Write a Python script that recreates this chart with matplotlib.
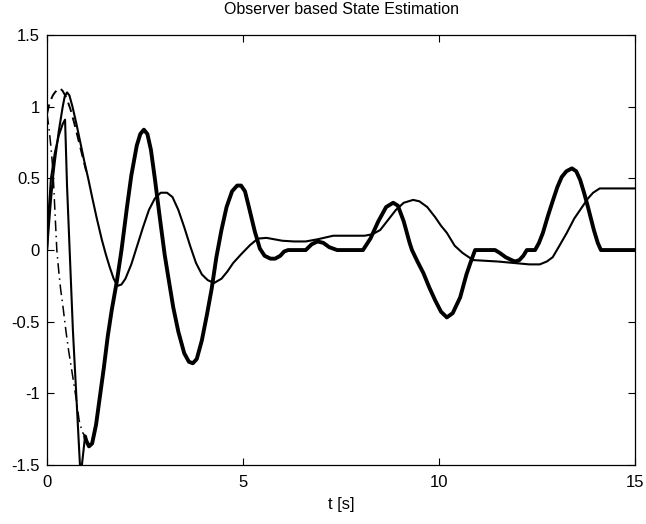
import matplotlib
matplotlib.use("Agg")
import matplotlib.pyplot as plt

plt.rcParams['font.family'] = ['Liberation Sans', 'DejaVu Sans']
plt.rcParams['axes.unicode_minus'] = False

# thick line: first state (true and estimate on top of each other)
t_x1 = [0.97, 1.0, 1.07, 1.15, 1.25, 1.35, 1.45, 1.55, 1.65, 1.78, 1.9, 2.04, 2.15, 2.29, 2.38,
        2.47, 2.56, 2.65, 2.75, 2.88, 3.0, 3.1, 3.22, 3.35, 3.5, 3.62, 3.72, 3.82, 3.95, 4.08,
        4.2, 4.32, 4.45, 4.58, 4.72, 4.85, 4.95, 5.05, 5.15, 5.3, 5.43, 5.55, 5.7, 5.82, 5.95,
        6.05, 6.15, 6.6, 6.75, 6.9, 7.05, 7.2, 7.4, 8.06, 8.25, 8.45, 8.65, 8.83, 8.95, 9.1,
        9.25, 9.31, 9.45, 9.6, 9.75, 9.9, 10.05, 10.2, 10.35, 10.54, 10.7, 10.8, 10.92, 11.43,
        11.55, 11.7, 11.85, 11.94, 12.05, 12.15, 12.24, 12.45, 12.55, 12.65, 12.78, 12.91, 13.02,
        13.13, 13.25, 13.39, 13.5, 13.6, 13.7, 13.8, 13.95, 14.05, 14.13, 15.0]
x1 = [-1.30, -1.33, -1.37, -1.35, -1.22, -1.02, -0.82, -0.60, -0.42, -0.22, 0.0, 0.30, 0.52, 0.73, 0.81,
      0.84, 0.81, 0.70, 0.50, 0.22, -0.03, -0.20, -0.40, -0.57, -0.72, -0.78, -0.79, -0.76, -0.63, -0.45,
      -0.27, -0.05, 0.14, 0.30, 0.41, 0.45, 0.45, 0.41, 0.30, 0.13, 0.01, -0.04, -0.06, -0.06, -0.04,
      -0.01, 0.0, 0.0, 0.04, 0.06, 0.05, 0.02, 0.0, 0.0, 0.08, 0.20, 0.30, 0.33, 0.31, 0.20,
      0.05, 0.0, -0.08, -0.16, -0.26, -0.35, -0.43, -0.47, -0.44, -0.33, -0.17, -0.09, 0.0, 0.0,
      -0.02, -0.05, -0.07, -0.08, -0.07, -0.04, 0.0, 0.0, 0.05, 0.12, 0.24, 0.35, 0.44,
      0.51, 0.55, 0.57, 0.55, 0.49, 0.40, 0.30, 0.14, 0.05, 0.0, 0.0]

# thin line: estimate of first state before it locks on
t_x1_hat = [0, 0.05, 0.1, 0.2, 0.3, 0.4, 0.46, 0.51, 0.66, 0.84, 0.87, 0.97]
x1_hat = [0, 0.30, 0.50, 0.68, 0.80, 0.88, 0.91, 0.45, -0.56, -1.50, -1.55, -1.30]

# dash-dot: first state, start of run
t_x1_true = [0, 0.05, 0.1, 0.15, 0.2, 0.25, 0.3, 0.35, 0.4, 0.48, 0.55, 0.66, 0.75, 0.82, 0.9, 0.97]
x1_true = [0.95, 0.85, 0.72, 0.56, 0.28, 0.0, -0.15, -0.28, -0.38, -0.56, -0.70, -0.89, -1.05, -1.19, -1.27, -1.30]

# thin solid: second state estimate
t_x2 = [0, 0.05, 0.1, 0.15, 0.2, 0.3, 0.4, 0.45, 0.51, 0.57, 0.65, 0.75, 0.85, 0.95, 1.05, 1.15,
        1.27, 1.4, 1.5, 1.6, 1.7, 1.8, 1.9, 2.0, 2.15, 2.3, 2.45, 2.6, 2.75, 2.9, 3.06, 3.2,
        3.35, 3.5, 3.65, 3.8, 3.95, 4.1, 4.26, 4.45, 4.6, 4.75, 4.95, 5.18, 5.38, 5.6, 5.8,
        6.0, 6.3, 6.6, 6.9, 7.3, 7.8, 8.1, 8.3, 8.5, 8.7, 8.9, 9.1, 9.34, 9.5, 9.7, 9.9,
        10.05, 10.2, 10.4, 10.6, 10.87, 11.5, 11.9, 12.3, 12.57, 12.75, 12.9, 13.05, 13.26,
        13.45, 13.6, 13.8, 13.93, 14.1, 14.3, 15.0]
x2 = [0, 0.18, 0.35, 0.50, 0.62, 0.83, 1.0, 1.07, 1.10, 1.08, 1.0, 0.88, 0.75, 0.62, 0.50, 0.37,
      0.22, 0.07, -0.03, -0.12, -0.20, -0.25, -0.24, -0.20, -0.10, 0.03, 0.16, 0.28, 0.36, 0.40, 0.40, 0.37,
      0.28, 0.16, 0.03, -0.09, -0.17, -0.21, -0.23, -0.20, -0.15, -0.09, -0.03, 0.035, 0.08, 0.085, 0.075,
      0.065, 0.06, 0.06, 0.075, 0.10, 0.10, 0.10, 0.11, 0.14, 0.21, 0.28, 0.33, 0.35, 0.34, 0.30, 0.23,
      0.17, 0.12, 0.03, -0.02, -0.07, -0.08, -0.09, -0.10, -0.10, -0.08, -0.05, 0.02, 0.12,
      0.22, 0.28, 0.36, 0.40, 0.43, 0.43, 0.43]

# dashed: second state, start of run
t_x2_true = [0, 0.05, 0.1, 0.15, 0.2, 0.27, 0.33, 0.4, 0.5, 0.6, 0.7, 0.8, 0.9, 1.0]
x2_true = [0.95, 1.01, 1.05, 1.08, 1.10, 1.12, 1.13, 1.11, 1.06, 0.98, 0.88, 0.77, 0.66, 0.55]

fig = plt.figure(figsize=(6.46, 5.24), dpi=100)
ax = fig.add_axes([0.0728, 0.1126, 0.9102, 0.8204])

ax.plot(t_x2, x2, color='black', lw=1.5)
ax.plot(t_x2_true, x2_true, color='black', lw=1.4, ls=(0, (5, 3)))
ax.plot(t_x1_true, x1_true, color='black', lw=1.1, ls=(0, (7, 3, 1, 3)))
ax.plot(t_x1_hat, x1_hat, color='black', lw=1.5)
ax.plot(t_x1, x1, color='black', lw=2.8, solid_joinstyle='round', solid_capstyle='round')

ax.set_xlim(0, 15)
ax.set_ylim(-1.5, 1.5)
ax.set_xticks([0, 5, 10, 15])
ax.set_yticks([-1.5, -1, -0.5, 0, 0.5, 1, 1.5])
ax.set_yticklabels(['-1.5', '-1', '-0.5', '0', '0.5', '1', '1.5'])
ax.tick_params(direction='in', top=True, right=True, length=5, width=0.8, labelsize=12)
ax.tick_params(axis='x', pad=7)
ax.tick_params(axis='y', pad=5)
for s in ax.spines.values():
    s.set_linewidth(0.9)

ax.set_title('Observer based State Estimation', fontsize=11.5, pad=15)
ax.set_xlabel('t [s]', fontsize=12, labelpad=5)

fig.savefig('out.png', dpi=100)
